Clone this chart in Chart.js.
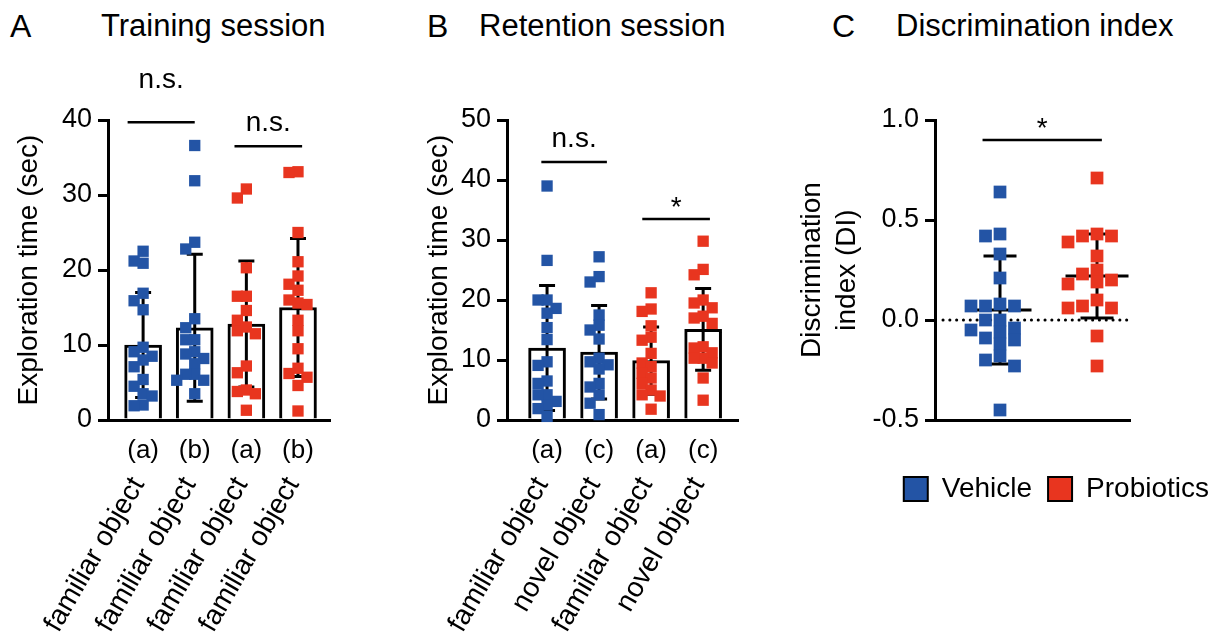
<!DOCTYPE html>
<html>
<head>
<meta charset="utf-8">
<script src="https://cdn.jsdelivr.net/npm/chart.js@4.4.1/dist/chart.umd.min.js"></script>
<style>
  html, body { margin: 0; padding: 0; background: #fff; overflow: hidden; }
  #fig { position: relative; width: 1225px; height: 637px; font-family: 'Liberation Sans', Arial, sans-serif; color: #000; }
  #fig canvas { position: absolute; top: 0; }
  .head { position: absolute; top: 10px; line-height: 1; white-space: nowrap; }
  .letter { font-size: 32px; }
  .title { font-size: 31px; }
</style>
</head>
<body>
<div id="fig">
  <div class="head letter" style="left:10px">A</div>
  <div class="head title" style="left:101px">Training session</div>
  <div class="head letter" style="left:427px">B</div>
  <div class="head title" style="left:479px">Retention session</div>
  <div class="head letter" style="left:832px">C</div>
  <div class="head title" style="left:896px">Discrimination index</div>
  <canvas id="chartA" width="345" height="637" style="left:0"></canvas>
  <canvas id="chartB" width="340" height="637" style="left:410px"></canvas>
  <canvas id="chartC" width="435" height="513" style="left:790px"></canvas>
</div>
<script>
// ---- values ----
const groups = ['Vehicle', 'Probiotics'];
const groupColors = ['#2354a5', '#e8351f'];

// A - training session
const trainLabels = ['(a)', '(b)', '(a)', '(b)'];
const trainObjects = ['familiar object', 'familiar object', 'familiar object', 'familiar object'];
const trainGroup = [0, 0, 1, 1];
const trainTicks = [0, 10, 20, 30, 40];
const trainMean = [10.0, 12.3, 12.8, 15.0];
const trainSD = [7.0, 9.8, 8.4, 9.2];
const trainVehicleA = [22.5, 21.2, 20.9, 16.9, 15.9, 14.7, 9.7, 9.1, 8.5, 8.0, 7.1, 5.4, 4.5, 3.5, 3.2, 2.0, 1.9];
const trainVehicleB = [36.6, 31.9, 23.7, 22.8, 13.5, 12.3, 10.7, 10.7, 9.1, 8.8, 8.2, 7.5, 6.1, 6.1, 5.3, 5.3, 3.5];
const trainProbioticsA = [30.8, 29.6, 20.3, 16.5, 16.5, 14.6, 13.3, 12.4, 11.9, 11.5, 7.2, 6.3, 4.0, 3.8, 3.5, 1.3];
const trainProbioticsB = [33.1, 33.0, 25.0, 21.1, 19.2, 18.1, 17.3, 16.0, 15.6, 15.4, 13.3, 11.9, 9.5, 6.9, 6.2, 5.7, 4.6, 1.2];
const trainSig = [
  { from: -0.3, to: 1.0, y: 39.7, text: 'n.s.', textY: 44.3 },
  { from: 1.77, to: 3.08, y: 36.5, text: 'n.s.', textY: 38.5 }
];

// B - retention session
const retLabels = ['(a)', '(c)', '(a)', '(c)'];
const retObjects = ['familiar object', 'novel object', 'familiar object', 'novel object'];
const retGroup = [0, 0, 1, 1];
const retTicks = [0, 10, 20, 30, 40, 50];
const retMean = [12.0, 11.3, 9.9, 15.1];
const retSD = [10.4, 7.8, 5.6, 6.8];
const retVehicleA = [39.0, 26.6, 20.0, 20.0, 18.6, 17.8, 15.4, 13.4, 9.7, 9.1, 6.5, 6.1, 4.2, 4.2, 3.1, 2.5, 1.9, 0.6];
const retVehicleC = [27.2, 23.9, 23.0, 17.5, 15.8, 15.0, 13.5, 10.3, 9.7, 9.2, 8.5, 6.1, 5.5, 4.2, 2.8, 0.9];
const retProbioticsA = [21.2, 18.5, 18.1, 15.7, 13.8, 13.3, 11.1, 9.5, 8.9, 7.8, 7.0, 6.1, 5.0, 4.2, 4.0, 1.8];
const retProbioticsC = [29.8, 25.1, 24.2, 20.0, 19.5, 18.7, 17.3, 17.0, 16.1, 12.2, 12.0, 11.2, 10.3, 10.3, 9.5, 7.0, 3.3];
const retSig = [
  { from: -0.11, to: 1.15, y: 43.0, text: 'n.s.', textY: 45.5 },
  { from: 1.83, to: 3.13, y: 33.5, text: '*', textY: 34.0 }
];

// C - discrimination index
const diTicks = [-0.5, 0.0, 0.5, 1.0];
const diMean = [0.05, 0.22];
const diSD = [0.27, 0.21];
const diVehicle = [0.64, 0.43, 0.42, 0.33, 0.21, 0.08, 0.07, 0.07, 0.07, 0.0, 0.0, -0.04, -0.05, -0.06, -0.09, -0.10, -0.12, -0.18, -0.20, -0.23, -0.45];
const diProbiotics = [0.71, 0.43, 0.42, 0.42, 0.39, 0.32, 0.25, 0.23, 0.20, 0.19, 0.18, 0.10, 0.07, 0.06, 0.06, -0.08, -0.23];
const diSig = [{ from: -0.18, to: 1.05, y: 0.9, text: '*', textY: 0.915 }];

// ---- setup ----
const FONT = "'Liberation Sans', Arial, sans-serif";
Chart.defaults.font.family = FONT;
Chart.defaults.color = '#000';

const TOP = 120, BOTTOM = 420;

// simple beeswarm: spread points sideways when they would overlap
function swarm(values, center, pxY, pxX, size, step) {
    const placed = [];
    const out = [];
    const order = values.map((v, i) => i).sort((a, b) => values[b] - values[a]);
    order.forEach(i => {
        const py = values[i] * pxY;
        for (let k = 0; k < 40; k++) {
            const off = (k % 2 ? -1 : 1) * Math.ceil(k / 2) * step;
            const free = placed.every(p => Math.abs(p.dx - off) > step * 0.5 || Math.abs(p.py - py) >= size);
            if (free) {
                placed.push({ dx: off, py });
                out.push({ x: center + off / pxX, y: values[i] });
                break;
            }
        }
    });
    return out;
}

// mean / SD whiskers (and the dotted zero line for C)
function drawSummary(chart, o) {
    const { ctx, chartArea, scales: { x, y } } = chart;
    ctx.save();
    if (o.zeroLine) {
        const pz = y.getPixelForValue(0);
        ctx.strokeStyle = '#000';
        ctx.lineWidth = 3;
        ctx.lineCap = 'round';
        ctx.setLineDash([0.1, 6.7]);
        ctx.beginPath();
        ctx.moveTo(chartArea.left + 8, pz);
        ctx.lineTo(chartArea.right, pz);
        ctx.stroke();
        ctx.setLineDash([]);
    }
    ctx.strokeStyle = '#000';
    ctx.lineWidth = 3;
    ctx.lineCap = 'butt';
    o.mean.forEach((m, i) => {
        const px = x.getPixelForValue(i);
        const top = y.getPixelForValue(m + o.sd[i]);
        const bot = y.getPixelForValue(m - o.sd[i]);
        ctx.beginPath();
        ctx.moveTo(px, top); ctx.lineTo(px, bot);
        ctx.moveTo(px - o.cap / 2, top); ctx.lineTo(px + o.cap / 2, top);
        ctx.moveTo(px - o.cap / 2, bot); ctx.lineTo(px + o.cap / 2, bot);
        if (o.meanWidth) {
            const pm = y.getPixelForValue(m);
            ctx.moveTo(px - o.meanWidth / 2, pm); ctx.lineTo(px + o.meanWidth / 2, pm);
        }
        ctx.stroke();
    });
    ctx.restore();
}

const summary = {
    id: 'summary',
    afterDatasetDraw(chart, args, o) {
        if (args.meta.type === 'bar') drawSummary(chart, o);
    },
    beforeDatasetsDraw(chart, args, o) {
        if (o.meanWidth) drawSummary(chart, o);
    }
};

const sigMarks = {
    id: 'sigMarks',
    afterDatasetsDraw(chart, args, o) {
        const { ctx, scales: { x, y } } = chart;
        ctx.save();
        ctx.strokeStyle = '#000';
        ctx.fillStyle = '#000';
        ctx.lineWidth = 2.5;
        ctx.font = `28px ${FONT}`;
        ctx.textAlign = 'center';
        ctx.textBaseline = 'alphabetic';
        o.marks.forEach(m => {
            const x1 = x.getPixelForValue(m.from), x2 = x.getPixelForValue(m.to);
            const py = y.getPixelForValue(m.y);
            ctx.beginPath();
            ctx.moveTo(x1, py);
            ctx.lineTo(x2, py);
            ctx.stroke();
            ctx.fillText(m.text, (x1 + x2) / 2, y.getPixelForValue(m.textY));
        });
        ctx.restore();
    }
};

// two-row category labels: "(a)" flat, object name slanted
const catLabels = {
    id: 'catLabels',
    afterDraw(chart, args, o) {
        const { ctx, scales: { x } } = chart;
        ctx.save();
        ctx.fillStyle = '#000';
        o.labels.forEach((lab, i) => {
            const px = x.getPixelForValue(i);
            ctx.font = `26px ${FONT}`;
            ctx.textAlign = 'center';
            ctx.textBaseline = 'middle';
            ctx.fillText(lab, px, x.top + 31);

            ctx.save();
            ctx.translate(px - 5, x.top + 60);
            ctx.rotate(-o.angle * Math.PI / 180);
            ctx.font = `28px ${FONT}`;
            ctx.textAlign = 'right';
            ctx.fillText(o.names[i], 0, 0);
            ctx.restore();
        });
        ctx.restore();
    }
};

function yAxis(ticks, title, width, titlePad, extra) {
    return Object.assign({
        min: ticks[0],
        max: ticks[ticks.length - 1],
        afterBuildTicks: s => { s.ticks = ticks.map(v => ({ value: v })); },
        ticks: { font: { size: 27 }, padding: 6, color: '#000' },
        grid: { drawOnChartArea: false, color: '#000', lineWidth: 3, tickLength: 10 },
        border: { color: '#000', width: 3 },
        title: { display: true, text: title, color: '#000', font: { size: 28, lineHeight: 1.25 }, padding: { top: titlePad, bottom: 0 } },
        afterFit: s => { s.width = width; }
    }, extra || {});
}

function xAxis(min, max, heightFn) {
    return {
        type: 'linear', min, max,
        offset: false,
        grid: { display: false, offset: false },
        ticks: { display: false },
        border: { color: '#000', width: 3 },
        afterFit: s => { s.height = heightFn(s.chart); }
    };
}

function barPanel(id, p) {
    const xPx = (p.right - p.left) / (p.xMax - p.xMin);
    const yPx = (BOTTOM - TOP) / (p.ticks[p.ticks.length - 1] - p.ticks[0]);
    const pointSets = p.points.map((vals, i) => ({
        type: 'scatter',
        data: swarm(vals, i, yPx, xPx, 10, 9),
        backgroundColor: groupColors[p.group[i]],
        pointStyle: 'rect',
        pointRadius: 8,
        pointHoverRadius: 8,
        pointBorderWidth: 0,
        clip: false,
        order: 0
    }));

    new Chart(document.getElementById(id), {
        type: 'bar',
        data: {
            datasets: [{
                type: 'bar',
                data: p.mean.map((m, i) => ({ x: i, y: m })),
                backgroundColor: '#fff',
                borderColor: '#000',
                borderWidth: 3,
                barThickness: 37,
                order: 1
            }, ...pointSets]
        },
        options: {
            responsive: false,
            animation: false,
            layout: { padding: { top: TOP, right: p.canvasWidth - p.right, left: 0, bottom: 0 } },
            plugins: {
                legend: { display: false },
                tooltip: { enabled: false },
                summary: { mean: p.mean, sd: p.sd, cap: 16 },
                sigMarks: { marks: p.sig },
                catLabels: { labels: p.labels, names: p.names, angle: 60 }
            },
            scales: {
                x: xAxis(p.xMin, p.xMax, c => c.height - BOTTOM),
                y: yAxis(p.ticks, 'Exploration time (sec)', p.left, 12)
            }
        },
        plugins: [summary, sigMarks, catLabels]
    });
}

barPanel('chartA', {
    canvasWidth: 345, left: 108, right: 330, xMin: -0.68, xMax: 3.62,
    ticks: trainTicks, mean: trainMean, sd: trainSD, group: trainGroup,
    labels: trainLabels, names: trainObjects, sig: trainSig,
    points: [trainVehicleA, trainVehicleB, trainProbioticsA, trainProbioticsB]
});

barPanel('chartB', {
    canvasWidth: 340, left: 97, right: 328, xMin: -0.77, xMax: 3.67,
    ticks: retTicks, mean: retMean, sd: retSD, group: retGroup,
    labels: retLabels, names: retObjects, sig: retSig,
    points: [retVehicleA, retVehicleC, retProbioticsA, retProbioticsC]
});

// ---- C: scatter with mean and SD ----
const cLeft = 145, cRight = 340, cMin = -0.67, cMax = 1.34;
const cPxX = (cRight - cLeft) / (cMax - cMin);
const cPxY = (BOTTOM - TOP) / (diTicks[diTicks.length - 1] - diTicks[0]);

new Chart(document.getElementById('chartC'), {
    type: 'scatter',
    data: {
        datasets: [diVehicle, diProbiotics].map((vals, i) => ({
            label: groups[i],
            data: swarm(vals, i, cPxY, cPxX, 12, 14.5),
            backgroundColor: groupColors[i],
            pointStyle: 'rect',
            pointRadius: 9,
            pointHoverRadius: 9,
            pointBorderWidth: 0,
            clip: false
        }))
    },
    options: {
        responsive: false,
        animation: false,
        layout: { padding: { top: TOP, right: 0, left: 0, bottom: 0 } },
        plugins: {
            legend: {
                position: 'bottom',
                align: 'end',
                labels: {
                    boxWidth: 24,
                    boxHeight: 24,
                    padding: 16,
                    color: '#000',
                    font: { size: 28 },
                    generateLabels: () => groups.map((g, i) => ({
                        text: g,
                        fillStyle: groupColors[i],
                        strokeStyle: '#000',
                        lineWidth: 2,
                        fontColor: '#000',
                        hidden: false,
                        datasetIndex: i
                    }))
                }
            },
            tooltip: { enabled: false },
            summary: { mean: diMean, sd: diSD, cap: 33, meanWidth: 63, zeroLine: true },
            sigMarks: { marks: diSig }
        },
        scales: {
            x: xAxis(cMin, cMax, c => c.height - BOTTOM - c.legend.height),
            y: yAxis(diTicks, ['Discrimination', 'index (DI)'], cLeft, 5, {
                ticks: { font: { size: 27 }, padding: 6, color: '#000', callback: v => v.toFixed(1) },
                title: { display: true, text: ['Discrimination', 'index (DI)'], color: '#000', font: { size: 28, lineHeight: 1.25 }, padding: { top: 5, bottom: 0 } }
            }),
            yRight: {
                type: 'linear', position: 'right',
                grid: { display: false }, ticks: { display: false }, border: { display: false },
                afterFit: s => { s.width = 435 - cRight; }
            }
        }
    },
    plugins: [summary, sigMarks]
});
</script>
</body>
</html>
